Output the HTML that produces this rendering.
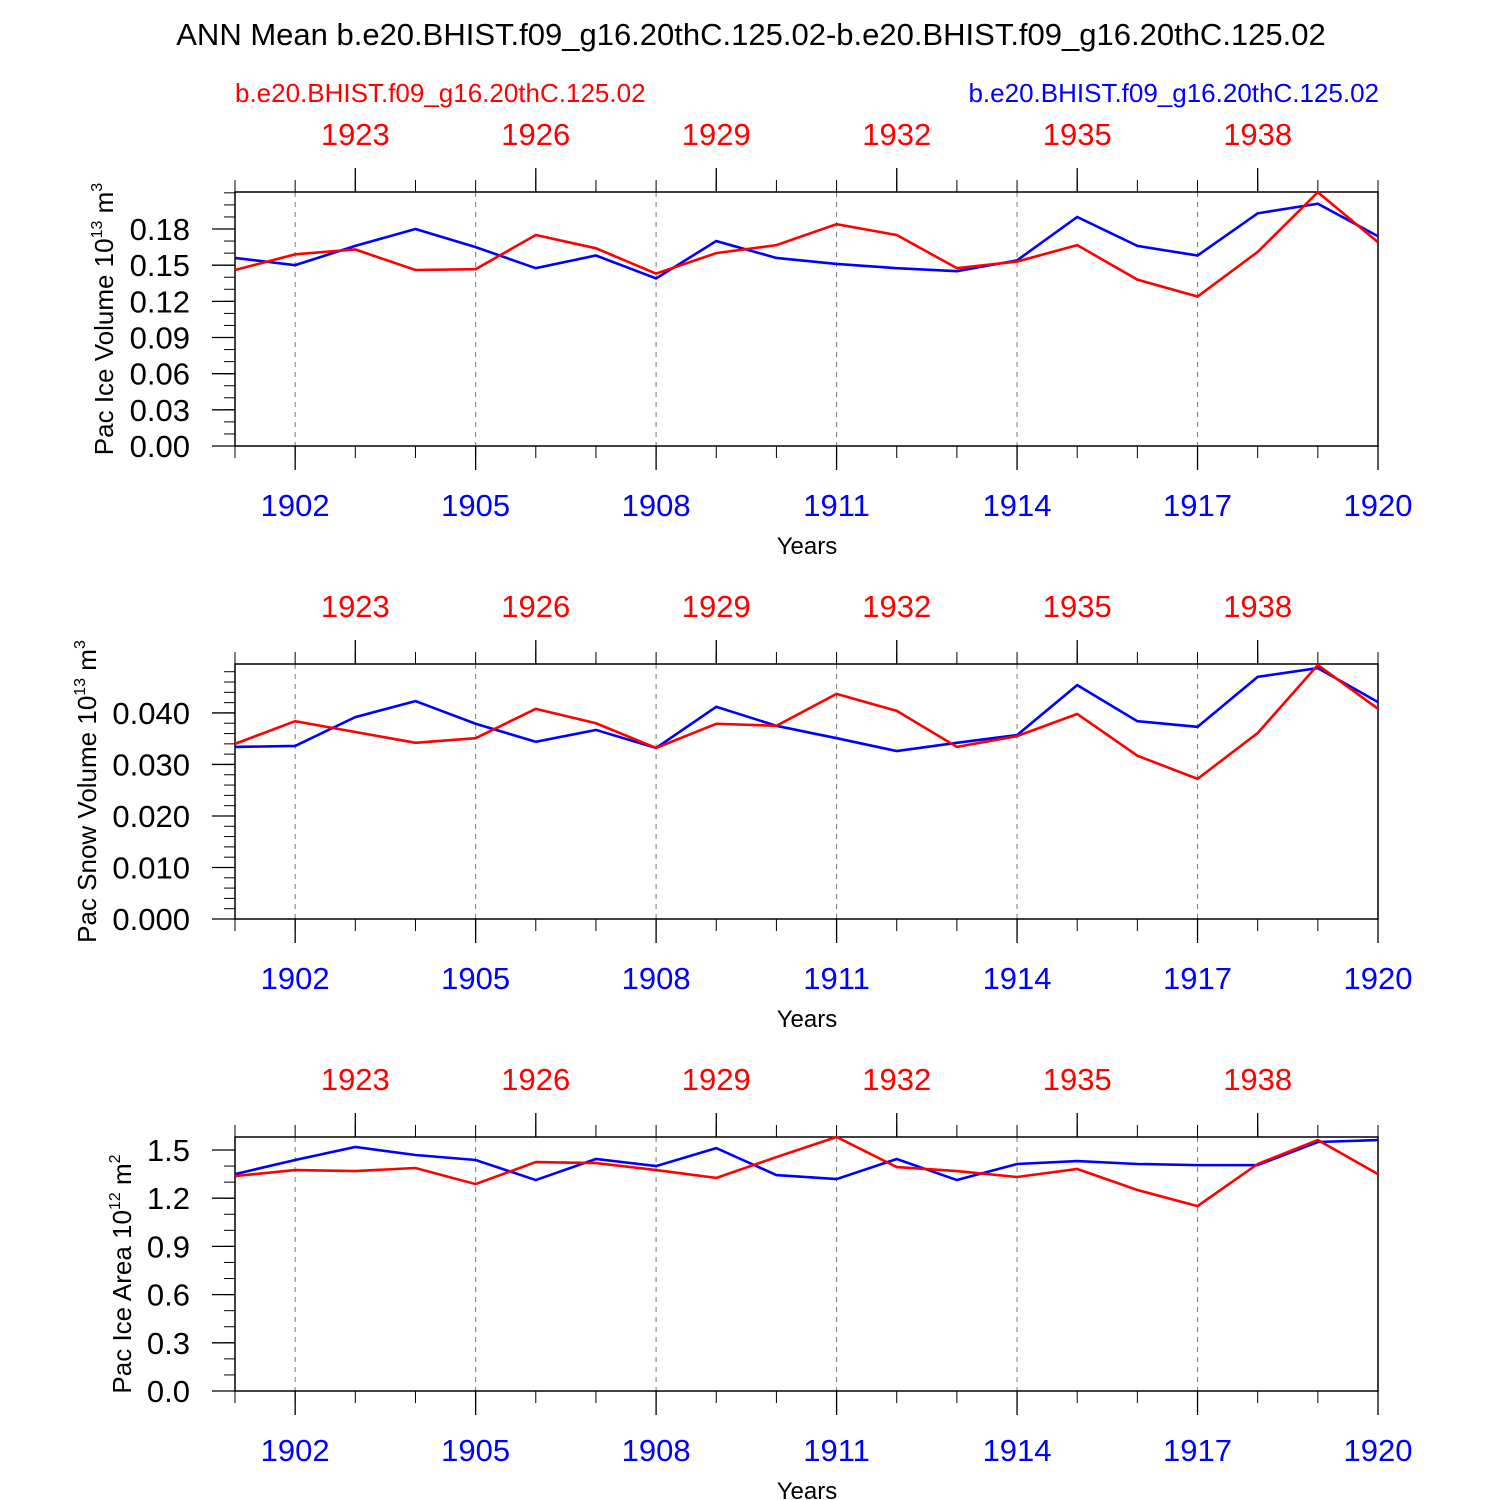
<!DOCTYPE html>
<html><head><meta charset="utf-8"><style>html,body{margin:0;padding:0;background:#fff}svg{display:block}text{font-family:"Liberation Sans",sans-serif}</style></head>
<body>
<svg id="chart" width="1500" height="1500" viewBox="0 0 1500 1500">
<text x="751" y="45" font-size="31" text-anchor="middle">ANN Mean b.e20.BHIST.f09_g16.20thC.125.02-b.e20.BHIST.f09_g16.20thC.125.02</text>
<text x="235" y="102" font-size="26" fill="#ff0000">b.e20.BHIST.f09_g16.20thC.125.02</text>
<text x="1379" y="102" font-size="26" fill="#0000ff" text-anchor="end">b.e20.BHIST.f09_g16.20thC.125.02</text>
</svg>
<script>
const years = [1901,1902,1903,1904,1905,1906,1907,1908,1909,1910,1911,1912,1913,1914,1915,1916,1917,1918,1919,1920];
const iceVolRed = [0.146,0.159,0.163,0.146,0.1467,0.175,0.164,0.143,0.160,0.1666,0.184,0.175,0.1475,0.153,0.1666,0.138,0.124,0.161,0.2105,0.169];
const iceVolBlue = [0.156,0.150,0.166,0.180,0.165,0.1475,0.158,0.139,0.170,0.156,0.151,0.1475,0.145,0.154,0.190,0.166,0.158,0.193,0.201,0.174];
const snowVolRed = [0.0340,0.0384,0.0363,0.0342,0.0351,0.0408,0.0380,0.0332,0.0379,0.0375,0.0437,0.0404,0.0334,0.0355,0.0398,0.0317,0.0272,0.0361,0.0493,0.0408];
const snowVolBlue = [0.0334,0.0336,0.0392,0.0423,0.0379,0.0344,0.0367,0.0332,0.0412,0.0375,0.0351,0.0326,0.0342,0.0357,0.0454,0.0384,0.0373,0.0470,0.0487,0.0421];
const iceAreaRed = [1.338,1.375,1.369,1.388,1.288,1.425,1.419,1.375,1.326,1.456,1.581,1.394,1.369,1.332,1.382,1.251,1.151,1.413,1.562,1.350];
const iceAreaBlue = [1.350,1.438,1.519,1.469,1.438,1.313,1.444,1.400,1.512,1.344,1.319,1.444,1.313,1.413,1.431,1.413,1.406,1.406,1.550,1.562];
const bottomTickYears = [1902,1905,1908,1911,1914,1917,1920];
const topTickYears = [1903,1906,1909,1912,1915,1918];
const topTickLabels = ["1923","1926","1929","1932","1935","1938"];
const iceVolTicks = ["0.00","0.03","0.06","0.09","0.12","0.15","0.18"];
const snowVolTicks = ["0.000","0.010","0.020","0.030","0.040"];
const iceAreaTicks = ["0.0","0.3","0.6","0.9","1.2","1.5"];

const svg = document.getElementById('chart');
const NS = 'http://www.w3.org/2000/svg';
function mk(tag, attrs, parent){const e=document.createElementNS(NS,tag);for(const k in attrs)e.setAttribute(k,attrs[k]);(parent||svg).appendChild(e);return e;}
const X0=235,X1=1378;
function xs(yr){return X0+(yr-1901)/(1920-1901)*(X1-X0);}

const panels = [
 {name:'ice-volume',top:192,bot:446,ymax:0.2107,ticks:iceVolTicks,minor:0.01,red:iceVolRed,blue:iceVolBlue,label:['Pac Ice Volume 10','13',' m','3']},
 {name:'snow-volume',top:664,bot:919,ymax:0.0495,ticks:snowVolTicks,minor:0.002,red:snowVolRed,blue:snowVolBlue,label:['Pac Snow Volume 10','13',' m','3']},
 {name:'ice-area',top:1137,bot:1391,ymax:1.581,ticks:iceAreaTicks,minor:0.1,red:iceAreaRed,blue:iceAreaBlue,label:['Pac Ice Area 10','12',' m','2']}
];
panels.forEach(p=>{
 const g=mk('g',{});
 
 
 const ys=v=>p.bot-v/p.ymax*(p.bot-p.top);
 bottomTickYears.forEach(yr=>{const l=mk('line',{x1:xs(yr),x2:xs(yr),y1:p.top,y2:p.bot,stroke:'#777','stroke-width':1,'stroke-dasharray':'5,5'},g);
  });
 years.forEach(yr=>{const x=xs(yr);
  mk('line',{x1:x,x2:x,y1:p.bot,y2:p.bot+12,stroke:'#000','stroke-width':1},g);
  mk('line',{x1:x,x2:x,y1:p.top,y2:p.top-12,stroke:'#000','stroke-width':1},g);});
 bottomTickYears.forEach(yr=>{const x=xs(yr);
  mk('line',{x1:x,x2:x,y1:p.bot,y2:p.bot+24,stroke:'#000','stroke-width':1.3},g);
  const t=mk('text',{x:x,y:p.bot+70,'font-size':31,fill:'#0000ff','text-anchor':'middle'},g);t.textContent=String(yr);
  });
 topTickYears.forEach((yr,i)=>{const x=xs(yr);
  mk('line',{x1:x,x2:x,y1:p.top,y2:p.top-24,stroke:'#000','stroke-width':1.3},g);
  const t=mk('text',{x:x,y:p.top-47,'font-size':31,fill:'#ff0000','text-anchor':'middle'},g);t.textContent=topTickLabels[i];
  });
 for(let v=0;v<=p.ymax+1e-9;v+=p.minor){const y=ys(v);mk('line',{x1:X0-11,x2:X0,y1:y,y2:y,stroke:'#000','stroke-width':1},g);}
 p.ticks.forEach(s=>{const y=ys(parseFloat(s));
  mk('line',{x1:X0-23,x2:X0,y1:y,y2:y,stroke:'#000','stroke-width':1.3},g);
  const t=mk('text',{x:X0-45,y:y+11,'font-size':31,'text-anchor':'end'},g);t.textContent=s;
  });
 const f=mk('rect',{x:X0,y:p.top,width:X1-X0,height:p.bot-p.top,fill:'none',stroke:'#000','stroke-width':1.5},g);
 
 [['blue','#0000ff',p.blue],['red','#ff0000',p.red]].forEach(([n,c,d])=>{
  const pl=mk('polyline',{points:d.map((v,i)=>xs(years[i])+','+ys(v)).join(' '),fill:'none',stroke:c,'stroke-width':2.6},g);
  });
 const xt=mk('text',{x:807,y:p.bot+108,'font-size':24,'text-anchor':'middle'},g);xt.textContent='Years';
 
 const cy=(p.top+p.bot)/2-(p.name==='ice-area'?-10:0);
 const yt=mk('text',{x:0,y:0,'font-size':26,'text-anchor':'middle',transform:`translate(${p.name==='snow-volume'?96:p.name==='ice-area'?131:113},${cy}) rotate(-90)`},g);
 
 const a=mk('tspan',{},yt);a.textContent=p.label[0];
 const b=mk('tspan',{'font-size':16,dy:-11},yt);b.textContent=p.label[1];
 const c=mk('tspan',{dy:11},yt);c.textContent=p.label[2];
 const d=mk('tspan',{'font-size':16,dy:-11},yt);d.textContent=p.label[3];
});
</script>
</body></html>
